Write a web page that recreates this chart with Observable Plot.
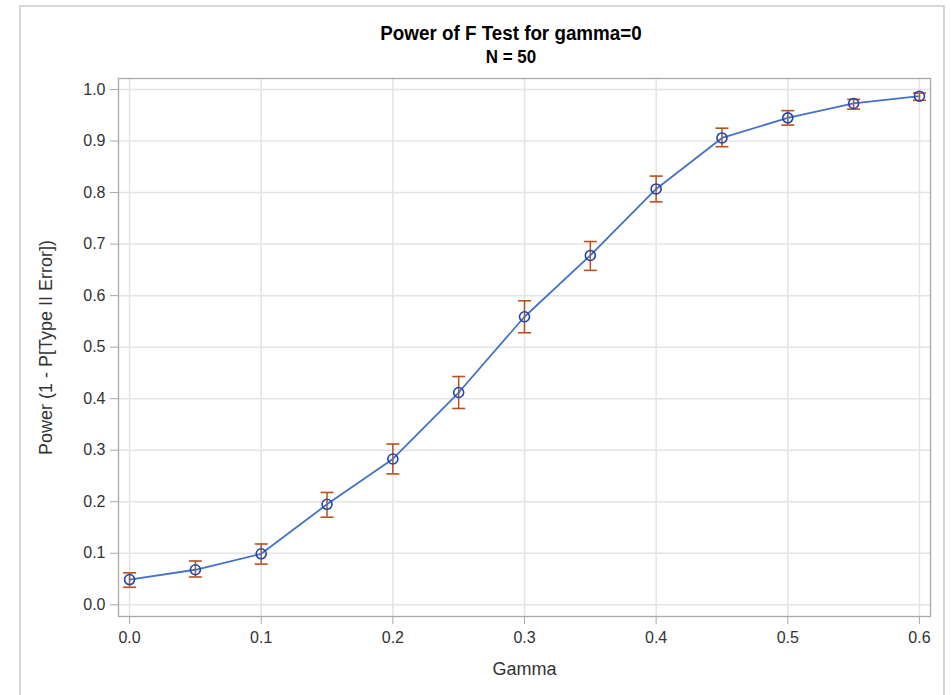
<!DOCTYPE html>
<html>
<head>
<meta charset="utf-8">
<script src="https://cdn.jsdelivr.net/npm/d3@7"></script>
<script src="https://cdn.jsdelivr.net/npm/@observablehq/plot@0.6"></script>
<style>
  body { margin: 0; background: #fff; font-family: "Liberation Sans", Arial, sans-serif; }
  #wrap { position: relative; width: 951px; height: 695px; overflow: hidden; }
  #border { position: absolute; left: 19px; top: 5px; width: 926px; height: 720px; border: 2px solid #d6d6d6; box-sizing: border-box; }
  #title { position: absolute; left: 0; width: 1022px; top: 22px; text-align: center; font-weight: bold; font-size: 20px; color: #000; transform: scaleX(0.94); }
  #subtitle { position: absolute; left: 0; width: 1022px; top: 47px; text-align: center; font-weight: bold; font-size: 18px; color: #000; transform: scaleX(0.94); }
  #chart { position: absolute; left: 0; top: 0; }
</style>
</head>
<body>
<div id="wrap">
  <div id="border"></div>
  <div id="chart"></div>
  <div id="title">Power of F Test for gamma=0</div>
  <div id="subtitle">N = 50</div>
</div>
<script>
const gamma = [0.0, 0.05, 0.1, 0.15, 0.2, 0.25, 0.3, 0.35, 0.4, 0.45, 0.5, 0.55, 0.6];
const power = [0.049, 0.068, 0.099, 0.195, 0.283, 0.412, 0.559, 0.678, 0.807, 0.906, 0.945, 0.973, 0.987];
const lower = [0.034, 0.054, 0.079, 0.170, 0.254, 0.381, 0.528, 0.649, 0.782, 0.889, 0.931, 0.962, 0.979];
const upper = [0.062, 0.085, 0.118, 0.218, 0.312, 0.443, 0.590, 0.705, 0.832, 0.925, 0.959, 0.981, 0.993];
const xTicks = [0, 0.1, 0.2, 0.3, 0.4, 0.5, 0.6];
const yTicks = [0, 0.1, 0.2, 0.3, 0.4, 0.5, 0.6, 0.7, 0.8, 0.9, 1.0];

const data = gamma.map((g, i) => ({g, p: power[i], lo: lower[i], hi: upper[i]}));

const cap = {
  draw(context, size) {
    context.moveTo(-6.5, 0);
    context.lineTo(6.5, 0);
  }
};

const fmt = d3.format(".1f");
const lineColor = "#4471c6";
const dotColor = "#1f47a8";
const errColor = "#b8501f";

const plot = Plot.plot({
  width: 951,
  height: 695,
  marginTop: 78,
  marginLeft: 118,
  marginRight: 21,
  marginBottom: 79,
  style: { fontFamily: "'Liberation Sans', Arial, sans-serif", fontSize: "16px", color: "#333", background: "transparent" },
  x: { domain: [-0.0084, 0.6084], label: null },
  y: { domain: [-0.0227, 1.0214], label: null },
  marks: [
    Plot.gridX(xTicks, { stroke: "#e4e4e4", strokeOpacity: 1, strokeWidth: 1.5 }),
    Plot.gridY(yTicks, { stroke: "#e4e4e4", strokeOpacity: 1, strokeWidth: 1.5 }),
    Plot.frame({ stroke: "#a9a9a9", strokeWidth: 1.3 }),
    Plot.axisX(xTicks, { tickSize: 8, tickPadding: 7, tickFormat: fmt, stroke: "#a9a9a9", fill: "#333", fontSize: 16, label: null }),
    Plot.axisY(yTicks, { tickSize: 8, tickPadding: 5, tickFormat: fmt, stroke: "#a9a9a9", fill: "#333", fontSize: 16, label: null }),
    Plot.ruleX(data, { x: "g", y1: "lo", y2: "hi", stroke: errColor, strokeWidth: 1.5 }),
    Plot.dot(data, { x: "g", y: "lo", symbol: cap, stroke: errColor, strokeWidth: 1.6, r: 6 }),
    Plot.dot(data, { x: "g", y: "hi", symbol: cap, stroke: errColor, strokeWidth: 1.6, r: 6 }),
    Plot.line(data, { x: "g", y: "p", stroke: lineColor, strokeWidth: 1.8 }),
    Plot.dot(data, { x: "g", y: "p", r: 5, stroke: dotColor, strokeWidth: 1.6, fill: "none" }),
    Plot.text(["Gamma"], { frameAnchor: "bottom", dy: 58, fontSize: 18, fill: "#333" }),
    Plot.text(["Power (1 - P[Type II Error])"], { frameAnchor: "left", textAnchor: "middle", dx: -72, rotate: -90, fontSize: 18, fill: "#333" })
  ]
});
document.getElementById("chart").appendChild(plot);
</script>
</body>
</html>
